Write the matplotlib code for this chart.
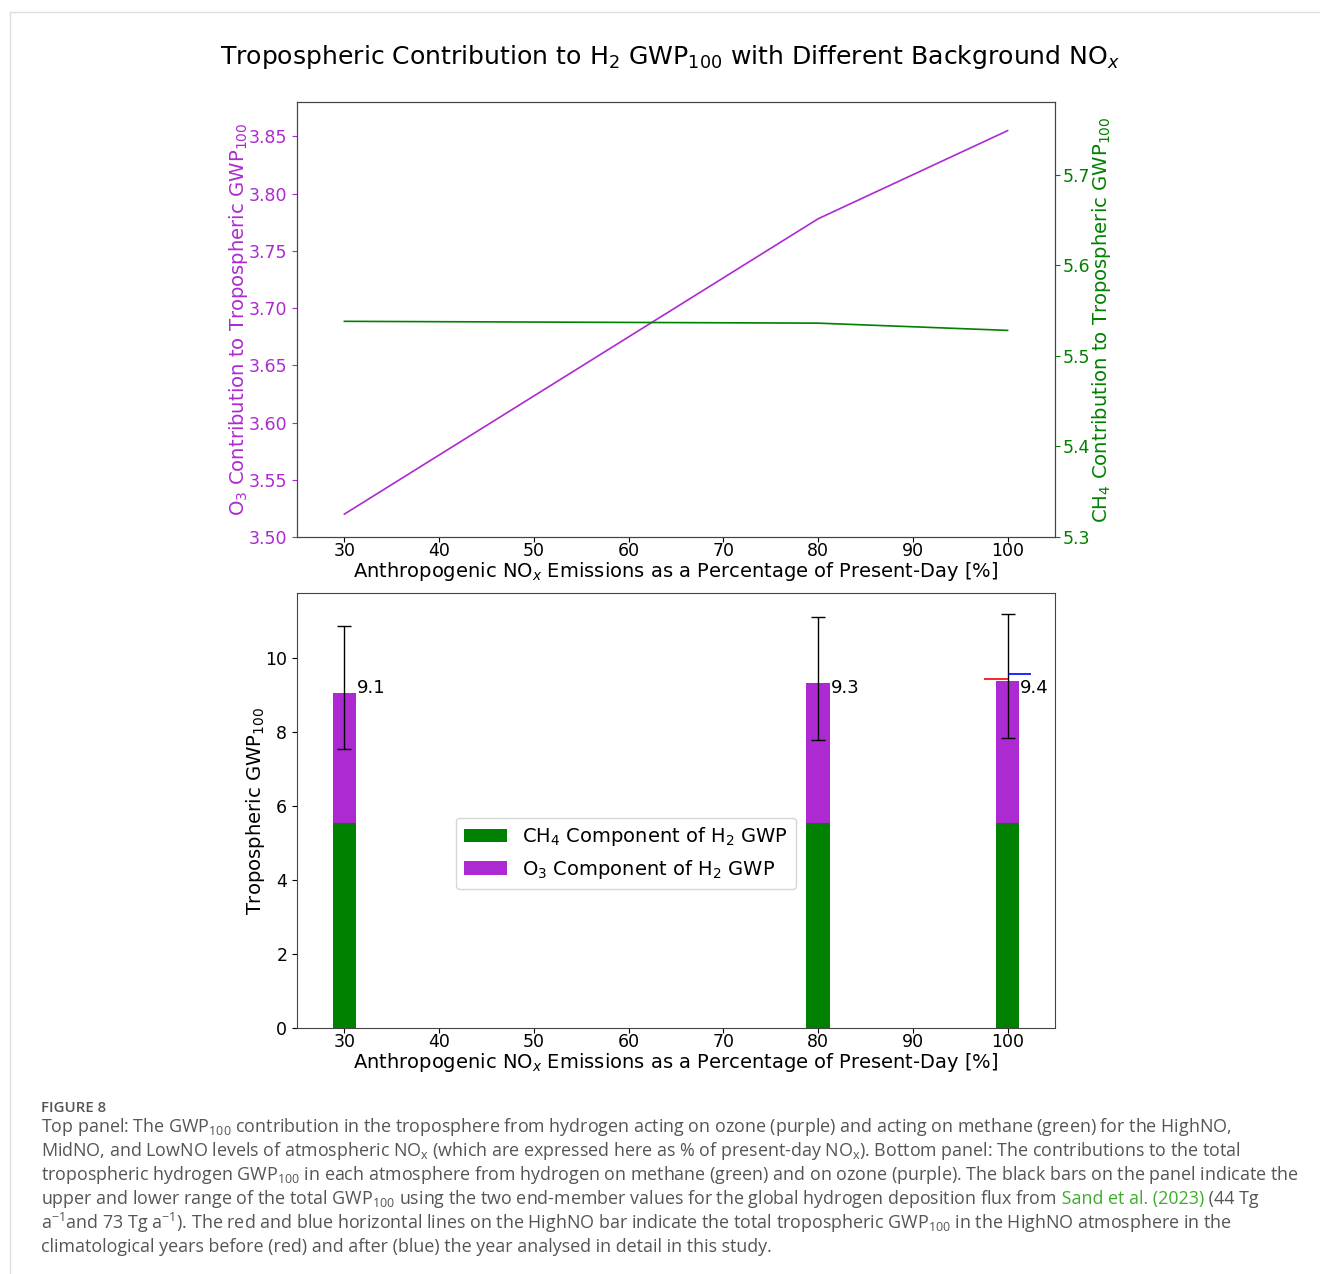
import numpy as np
import matplotlib.pyplot as plt
from matplotlib.lines import Line2D

# NOx scenarios (% of present-day anthropogenic emissions)
nox_pct = np.array([30, 80, 100])
# tropospheric GWP100 contributions
o3_gwp = np.array([3.520, 3.778, 3.855])
ch4_gwp = np.array([5.538, 5.536, 5.528])
# range from the two deposition flux end-members
gwp_low = np.array([7.55, 7.79, 7.84])
gwp_high = np.array([10.86, 11.10, 11.19])
# HighNO total in the years before / after the analysed year
highno_before = 9.43
highno_after = 9.57
label_y = 9.05

purple = '#ad2ad2'
green = '#008000'
xlab = 'Anthropogenic NO$_x$ Emissions as a Percentage of Present-Day [%]'

fig = plt.figure(figsize=(13.2, 12.74), dpi=100)

# page frame
fig.add_artist(Line2D([10/1320, 10/1320], [0, 1 - 12/1274], transform=fig.transFigure, color='#dddddd', lw=1))
fig.add_artist(Line2D([10/1320, 1], [1 - 12/1274, 1 - 12/1274], transform=fig.transFigure, color='#dddddd', lw=1))

fig.text(0.5076, 1 - 57/1274, 'Tropospheric Contribution to H$_2$ GWP$_{100}$ with Different Background NO$_x$',
         ha='center', va='center', fontsize=18.1)

# ---- top panel: line plot with twin axes
ax1 = fig.add_axes([0.225, 0.5785, 0.5742, 0.3414])
ax1.plot(nox_pct, o3_gwp, color=purple, lw=1.2)
ax1.set_xlim(25, 105)
ax1.set_ylim(3.5, 3.88)
ax1.set_yticks(np.arange(3.50, 3.851, 0.05))
ax1.set_yticklabels([f'{v:.2f}' for v in np.arange(3.50, 3.851, 0.05)])
ax1.tick_params(axis='y', colors=purple, labelsize=12.5)
ax1.tick_params(axis='x', labelsize=12.5, pad=0)
ax1.set_ylabel('O$_3$ Contribution to Tropospheric GWP$_{100}$', color=purple, fontsize=14.1, labelpad=-1)
ax1.set_xlabel(xlab, fontsize=14, labelpad=0)

ax2 = ax1.twinx()
ax2.plot(nox_pct, ch4_gwp, color=green, lw=1.2)
ax2.set_ylim(5.3, 5.78)
ax2.set_yticks([5.3, 5.4, 5.5, 5.6, 5.7])
ax2.tick_params(axis='y', colors=green, labelsize=12.5, pad=2)
ax2.set_ylabel('CH$_4$ Contribution to Tropospheric GWP$_{100}$', color=green, fontsize=14.1, labelpad=0)
for sp in ax2.spines.values():
    sp.set_color('#444444')
for sp in ax1.spines.values():
    sp.set_color('#444444')

# ---- bottom panel: stacked bars with range
ax3 = fig.add_axes([0.225, 0.1931, 0.5742, 0.3414])
total = ch4_gwp + o3_gwp
ax3.bar(nox_pct, ch4_gwp, width=2.5, color=green, label='CH$_4$ Component of H$_2$ GWP')
ax3.bar(nox_pct, o3_gwp, width=2.5, bottom=ch4_gwp, color=purple, label='O$_3$ Component of H$_2$ GWP')
ax3.errorbar(nox_pct, total, yerr=[total - gwp_low, gwp_high - total], fmt='none',
             ecolor='black', elinewidth=1, capsize=5)
for x, t in zip(nox_pct, total):
    ax3.text(x + 1.3, label_y, f'{t:.1f}', fontsize=13)
ax3.hlines(highno_before, 97.5, 100, color='red', lw=1.2)
ax3.hlines(highno_after, 100, 102.5, color='blue', lw=1.2)
ax3.set_xlim(25, 105)
ax3.set_xticks(np.arange(30, 101, 10))
ax3.tick_params(labelsize=12.5)
ax3.tick_params(axis='x', pad=0)
ax3.set_ylabel('Tropospheric GWP$_{100}$', fontsize=14.1, labelpad=-1)
ax3.set_xlabel(xlab, fontsize=14, labelpad=0)
for sp in ax3.spines.values():
    sp.set_color('#444444')
ax3.legend(loc='center', bbox_to_anchor=(0.434, 0.402), fontsize=14, handlelength=2.2)

# ---- caption
cap_font = dict(family='Open Sans', color='#555555', fontsize=12.85)
fig.text(41/1320, 1 - 1108/1274, 'FIGURE 8', va='center', ha='left',
         family='Open Sans', color='#555555', fontsize=10.8, fontweight='semibold')

GWP = r'$\mathregular{GWP_{100}}$'
NOX = r'$\mathregular{NO_x}$'
AINV = r'$\mathregular{a^{-1}}$'
lines = [
    [('Top panel: The ' + GWP + ' contribution in the troposphere from hydrogen acting on ozone (purple) and acting on methane (green) for the HighNO,', None)],
    [('MidNO, and LowNO levels of atmospheric ' + NOX + ' (which are expressed here as % of present-day ' + NOX + '). Bottom panel: The contributions to the total', None)],
    [('tropospheric hydrogen ' + GWP + ' in each atmosphere from hydrogen on methane (green) and on ozone (purple). The black bars on the panel indicate the', None)],
    [('upper and lower range of the total ' + GWP + ' using the two end-member values for the global hydrogen deposition flux from', None),
     (' Sand et al. (2023)', '#3dae2b'), (' (44 Tg', None)],
    [(AINV + 'and 73 Tg ' + AINV + '). The red and blue horizontal lines on the HighNO bar indicate the total tropospheric ' + GWP + ' in the HighNO atmosphere in the', None)],
    [('climatological years before (red) and after (blue) the year analysed in detail in this study.', None)],
]
renderer = fig.canvas.get_renderer()
for i, parts in enumerate(lines):
    y = 1 - (1127 + 24 * i) / 1274
    x = 41 / 1320
    for txt, col in parts:
        kw = dict(cap_font)
        if col:
            kw['color'] = col
        t = fig.text(x, y, txt, va='center', ha='left', **kw)
        bb = t.get_window_extent(renderer)
        x = bb.x1 / fig.bbox.width

fig.savefig('out.png', dpi=100)
